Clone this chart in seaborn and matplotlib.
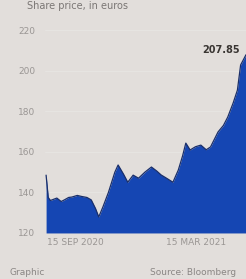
import matplotlib
matplotlib.use("Agg")
import matplotlib.pyplot as plt
import seaborn as sns
import pandas as pd
import numpy as np

# ---- data ----
dates = ["2020-09-15", "2020-09-17", "2020-09-19", "2020-09-25", "2020-09-29", "2020-10-02",
         "2020-10-06", "2020-10-09", "2020-10-14", "2020-10-18", "2020-10-23", "2020-10-27",
         "2020-10-31", "2020-11-03", "2020-11-07", "2020-11-12", "2020-11-18", "2020-11-21",
         "2020-11-26", "2020-11-30", "2020-12-05", "2020-12-10", "2020-12-16", "2020-12-22",
         "2020-12-27", "2020-12-31", "2021-01-05", "2021-01-11", "2021-01-16", "2021-01-20",
         "2021-01-23", "2021-01-27", "2021-02-01", "2021-02-06", "2021-02-11", "2021-02-15",
         "2021-02-22", "2021-02-27", "2021-03-03", "2021-03-08", "2021-03-12", "2021-03-15",
         "2021-03-20"]
prices = [148.5, 137.5, 136.0, 137.2, 135.5, 136.3,
          137.5, 137.7, 138.5, 138.0, 137.5, 136.3,
          132.0, 127.9, 133.0, 140.0, 150.0, 153.5,
          149.0, 145.0, 148.5, 147.0, 150.0, 152.5,
          150.5, 148.6, 147.0, 145.0, 151.0, 158.0,
          164.3, 160.9, 162.5, 163.3, 161.0, 162.4,
          169.8, 173.0, 177.1, 184.0, 190.4, 202.8,
          207.85]
y_ticks = [120, 140, 160, 180, 200, 220]
last_label = "207.85"
start_label = "15 SEP 2020"
end_label = "15 MAR 2021"
title = "Share price, in euros"
footer_left = "Graphic"
footer_right = "Source: Bloomberg"

df = pd.DataFrame({"date": pd.to_datetime(dates), "price": prices})

bg = "#e2dedb"
fill_col = "#1546b3"
line_col = "#1a2f6a"
tick_col = "#9a9694"

sns.set_theme(style="white")
plt.rcParams["font.family"] = ["DejaVu Sans"]

fig = plt.figure(figsize=(2.46, 2.79), dpi=100, facecolor=bg)
ax = fig.add_axes([0.183, 0.165, 0.817, 0.781])
ax.set_facecolor(bg)

ax.fill_between(df["date"], df["price"], 120, color=fill_col, linewidth=0, zorder=2)
sns.lineplot(data=df, x="date", y="price", ax=ax, color=line_col, linewidth=0.9, zorder=3)

ax.set_xlim(df["date"].iloc[0] - pd.Timedelta(days=1), df["date"].iloc[-1])
ax.set_ylim(120, 227.4)
ax.set_yticks(y_ticks)
ax.set_yticklabels([str(v) for v in y_ticks], color=tick_col, fontsize=6.5)
ax.tick_params(axis="y", length=0, pad=7)
ax.set_xticks([])
ax.set_xlabel("")
ax.set_ylabel("")
for s in ax.spines.values():
    s.set_visible(False)
for v in y_ticks[1:]:
    ax.axhline(v, color="#e9e7e5", linewidth=0.5, zorder=1)

ax.text(0.78, 0.84, last_label, transform=ax.transAxes, ha="left", va="center",
        fontsize=7, color="#3a3633", fontweight="bold")

fig.text(0.19, 0.132, start_label, ha="left", va="center", fontsize=6.5, color=tick_col)
fig.text(0.675, 0.132, end_label, ha="left", va="center", fontsize=6.5, color=tick_col)
fig.text(0.11, 0.978, title, ha="left", va="center", fontsize=7, color="#7a7674")
fig.text(0.04, 0.025, footer_left, ha="left", va="center", fontsize=6.5, color="#8a8684")
fig.text(0.61, 0.025, footer_right, ha="left", va="center", fontsize=6.5, color="#8a8684")

fig.savefig("out.png", dpi=100, facecolor=bg)
